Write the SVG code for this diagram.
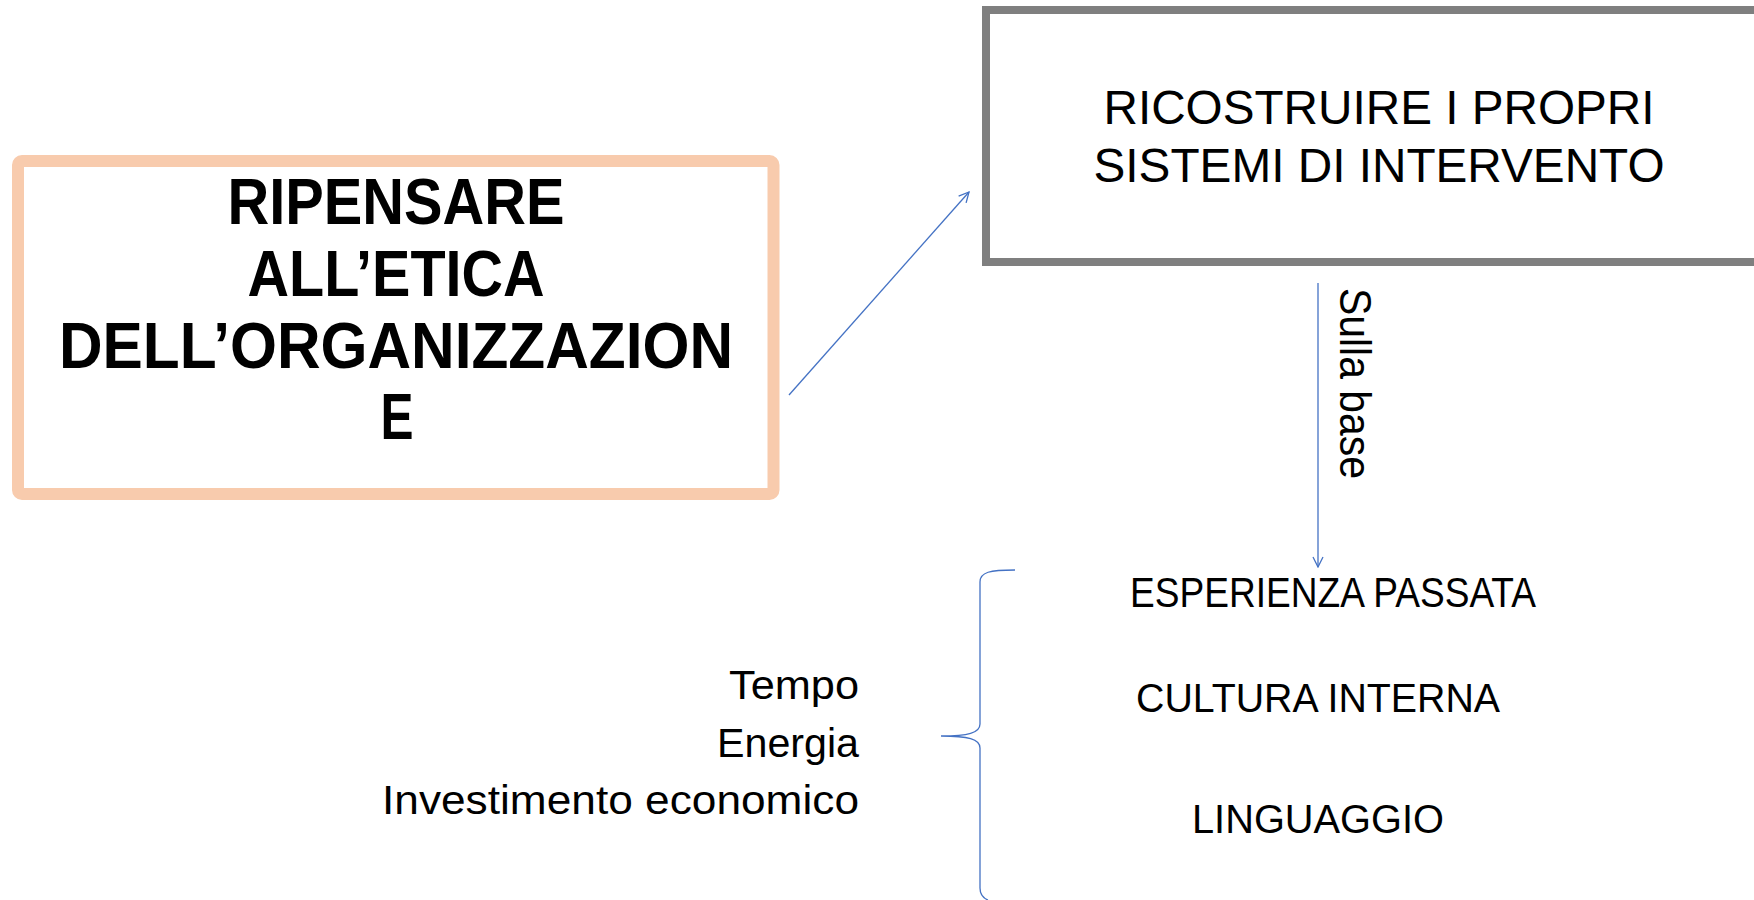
<svg xmlns="http://www.w3.org/2000/svg" width="1754" height="900" viewBox="0 0 1754 900">
<defs>
<style>
.t{font-family:"Liberation Sans",Arial,sans-serif;fill:#000}
.b{font-weight:bold;font-size:64px}
.conn{stroke:#4472C4;stroke-width:1.3;fill:none}
</style>
<marker id="arr" viewBox="0 0 12 12" refX="11" refY="6" markerWidth="12" markerHeight="12" markerUnits="userSpaceOnUse" orient="auto">
<path d="M1,1 L11,6 L1,11" fill="none" stroke="#4472C4" stroke-width="1.3"/>
</marker>
</defs>
<rect width="1754" height="900" fill="#fff"/>
<g id="node-ripensare">
<rect x="18" y="161" width="755.5" height="333" rx="4" fill="#fff" stroke="#F8CBAD" stroke-width="12"/>
<text class="t b" x="396" y="224" text-anchor="middle" textLength="337" lengthAdjust="spacingAndGlyphs">RIPENSARE</text>
<text class="t b" x="396" y="296" text-anchor="middle" textLength="297" lengthAdjust="spacingAndGlyphs">ALL’ETICA</text>
<text class="t b" x="396" y="368" text-anchor="middle" textLength="674" lengthAdjust="spacingAndGlyphs">DELL’ORGANIZZAZION</text>
<text class="t b" x="397" y="439" text-anchor="middle" textLength="33" lengthAdjust="spacingAndGlyphs">E</text>
</g>
<g id="node-ricostruire">
<rect x="986" y="10" width="800" height="252" fill="#fff" stroke="#7F7F7F" stroke-width="8"/>
<text class="t" x="1379" y="124" font-size="48" text-anchor="middle" textLength="551" lengthAdjust="spacingAndGlyphs">RICOSTRUIRE I PROPRI</text>
<text class="t" x="1379" y="182" font-size="48" text-anchor="middle" textLength="571" lengthAdjust="spacingAndGlyphs">SISTEMI DI INTERVENTO</text>
</g>
<g id="node-list">
<text class="t" x="1333" y="607" font-size="42" text-anchor="middle" textLength="406" lengthAdjust="spacingAndGlyphs">ESPERIENZA PASSATA</text>
<text class="t" x="1318" y="712" font-size="41" text-anchor="middle" textLength="364" lengthAdjust="spacingAndGlyphs">CULTURA INTERNA</text>
<text class="t" x="1318" y="833" font-size="40" text-anchor="middle" textLength="252" lengthAdjust="spacingAndGlyphs">LINGUAGGIO</text>
</g>
<g id="node-resources">
<text class="t" x="859" y="699" font-size="40" text-anchor="end" textLength="130" lengthAdjust="spacingAndGlyphs">Tempo</text>
<text class="t" x="859" y="757" font-size="40" text-anchor="end" textLength="142" lengthAdjust="spacingAndGlyphs">Energia</text>
<text class="t" x="859" y="814" font-size="40" text-anchor="end" textLength="477" lengthAdjust="spacingAndGlyphs">Investimento economico</text>
</g>
<g id="connectors">
<line class="conn" x1="789" y1="395" x2="969" y2="192" marker-end="url(#arr)"/>
<line class="conn" x1="1318" y1="283" x2="1318" y2="567" marker-end="url(#arr)"/>
<path class="conn" d="M1015,570 C990,570 980,572 980,582 L980,724 C980,733 968,736 941,736 C968,736 980,739 980,748 L980,888 C980,895 983,898 988,900"/>
<text class="t" transform="translate(1340,288) rotate(90)" font-size="44" textLength="191" lengthAdjust="spacingAndGlyphs">Sulla base</text>
</g>
</svg>
